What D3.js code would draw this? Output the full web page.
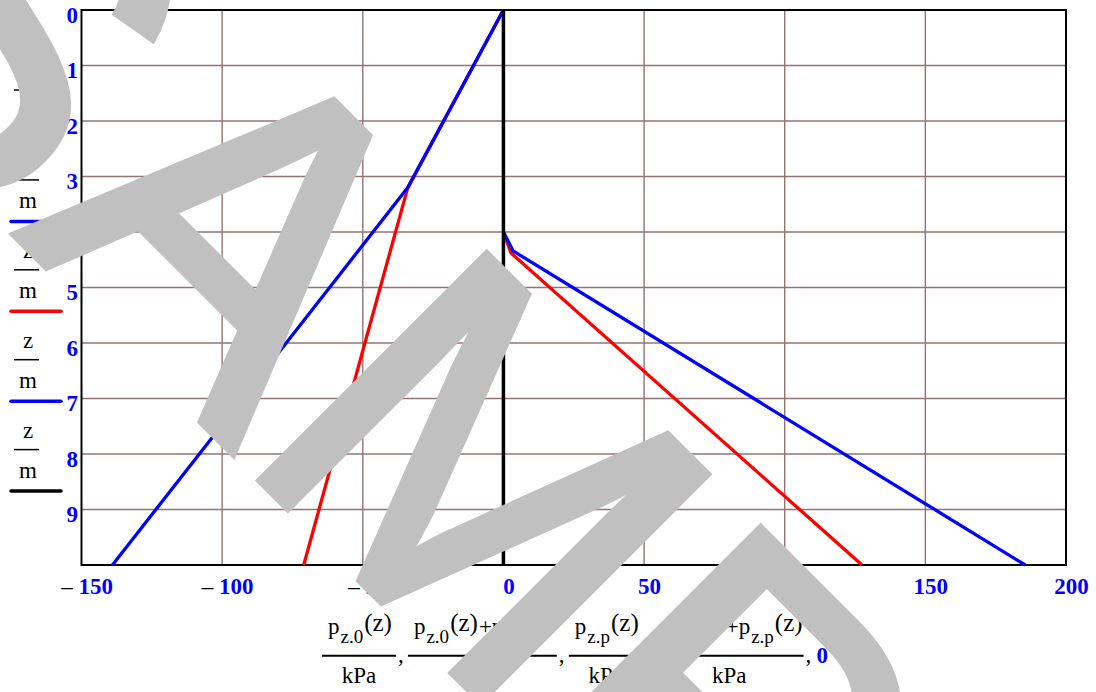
<!DOCTYPE html>
<html>
<head>
<meta charset="utf-8">
<script src="https://cdn.jsdelivr.net/npm/d3@7"></script>
<style>
body { margin:0; background:#fff; }
svg { display:block; }
</style>
</head>
<body>
<div id="chart"></div>
<script>
// depth z (m) and pressures (kPa)
var zLeft = [0, 3.2, 10];
var pz0 = [0, -34, -71];
var pz0pzp = [0, -34, -139];
var zRightRed = [4, 4.38, 10];
var pzp = [0, 2.7, 127.5];
var zRightBlue = [4, 4.34, 10];
var pz0pzpR = [0, 3.4, 185.5];
var zZero = [0, 10];
var pZero = [0, 0];

var xTicks = [-150, -100, -50, 0, 50, 100, 150, 200];
var yTicks = [0, 1, 2, 3, 4, 5, 6, 7, 8, 9];
var legendColors = ["red", "blue", "red", "blue", "black"];

var width = 1096, height = 692;
var pL = 81.5, pR = 1066, pT = 10, pB = 565;

var x = d3.scaleLinear().domain([-150, 200]).range([pL, pR]);
var y = d3.scaleLinear().domain([0, 10]).range([pT, pB]);

var svg = d3.select("#chart").append("svg")
    .attr("width", width)
    .attr("height", height);

var serif = "'Liberation Serif','Times New Roman',serif";
var gridColor = "#957373";

// grid
svg.append("g").selectAll("line")
    .data(xTicks.slice(1, -1))
    .enter().append("line")
    .attr("x1", d => x(d)).attr("x2", d => x(d))
    .attr("y1", pT).attr("y2", pB)
    .style("stroke", gridColor).style("stroke-width", 1.4);

svg.append("g").selectAll("line")
    .data(yTicks.slice(1))
    .enter().append("line")
    .attr("x1", pL).attr("x2", pR)
    .attr("y1", d => y(d)).attr("y2", d => y(d))
    .style("stroke", gridColor).style("stroke-width", 1.4);

// frame
svg.append("rect")
    .attr("x", pL).attr("y", pT)
    .attr("width", pR - pL).attr("height", pB - pT)
    .style("fill", "none").style("stroke", "black").style("stroke-width", 2);

var series = [
    {z: zLeft, p: pz0, color: "red"},
    {z: zLeft, p: pz0pzp, color: "blue"},
    {z: zRightRed, p: pzp, color: "red"},
    {z: zRightBlue, p: pz0pzpR, color: "blue"},
    {z: zZero, p: pZero, color: "black"}
];

var line = d3.line()
    .x(d => x(d[0]))
    .y(d => y(d[1]));

svg.append("g").selectAll("path")
    .data(series)
    .enter().append("path")
    .attr("d", s => line(s.p.map((v, i) => [v, s.z[i]])))
    .style("fill", "none")
    .style("stroke", s => s.color)
    .style("stroke-width", s => s.color == "black" ? 3.5 : 3.3)
    .style("stroke-linejoin", "round");

// y tick labels
svg.append("g").selectAll("text")
    .data(yTicks)
    .enter().append("text")
    .attr("x", 78)
    .attr("y", d => y(d) + 12.5)
    .attr("text-anchor", "end")
    .style("font-family", serif).style("font-size", "23px").style("font-weight", "bold")
    .style("fill", "blue")
    .text(d => d);

// x tick labels, minus sign black like mathcad
var xl = svg.append("g").selectAll("text")
    .data(xTicks)
    .enter().append("text")
    .attr("x", d => x(d) + 5.5)
    .attr("y", 594)
    .attr("text-anchor", "middle")
    .style("font-family", serif).style("font-size", "23px").style("font-weight", "bold");
xl.filter(d => d < 0).append("tspan").style("fill", "black").style("font-weight", "normal").text("\u2013 ");
xl.append("tspan").style("fill", "blue").text(d => Math.abs(d));

// legend on the left: z/m with a line sample
var leg = svg.append("g").selectAll("g")
    .data(legendColors)
    .enter().append("g")
    .attr("transform", (d, i) => "translate(0," + (131.5 + i * 89.9) + ")");
leg.append("text").attr("x", 28).attr("y", -53).attr("text-anchor", "middle")
    .style("font-family", serif).style("font-size", "23px").text("z");
leg.append("line").attr("x1", 14).attr("x2", 39).attr("y1", -41.5).attr("y2", -41.5)
    .style("stroke", "black").style("stroke-width", 1.5);
leg.append("text").attr("x", 28).attr("y", -13).attr("text-anchor", "middle")
    .style("font-family", serif).style("font-size", "23px").text("m");
leg.append("line").attr("x1", 11).attr("x2", 61).attr("y1", 0).attr("y2", 0)
    .style("stroke", d => d).style("stroke-width", 3.5).style("stroke-linecap", "round");

// x axis title: fractions p/kPa separated by commas
var fracs = [
    [["p", "z.0", "(z)"]],
    [["p", "z.0", "(z)"], ["+p", "z.p", "(z)"]],
    [["p", "z.p", "(z)"]],
    [["p", "z.0", "(z)"], ["+p", "z.p", "(z)"]]
];
var ttl = svg.append("g");
var cx = 322, lineY = 655.7;
fracs.forEach(function(f, k) {
    var num = ttl.append("text").attr("y", 634)
        .style("font-family", serif).style("font-size", "23px");
    f.forEach(function(part, j) {
        num.append("tspan").attr("y", 634).attr("dx", j ? 1 : 0).text(part[0]);
        num.append("tspan").attr("y", 643).attr("dx", 1).style("font-size", "19px").text(part[1]);
        num.append("tspan").attr("y", 631).attr("dx", 1).style("font-size", "25px").text(part[2]);
    });
    var nw = num.node().getComputedTextLength();
    var w = nw + 12;
    num.attr("x", cx + (w - nw) / 2);
    num.select("tspan").attr("x", cx + (w - nw) / 2);
    ttl.append("line").attr("x1", cx).attr("x2", cx + w).attr("y1", lineY).attr("y2", lineY)
        .style("stroke", "black").style("stroke-width", 2);
    ttl.append("text").attr("x", cx + w / 2).attr("y", 683).attr("text-anchor", "middle")
        .style("font-family", serif).style("font-size", "23px").text("kPa");
    ttl.append("text").attr("x", cx + w + 2).attr("y", 662)
        .style("font-family", serif).style("font-size", "23px").text(",");
    cx = cx + w + 12;
});
ttl.append("text").attr("x", cx + 1).attr("y", 663)
    .style("font-family", serif).style("font-size", "23px").style("font-weight", "bold")
    .style("fill", "blue").text("0");

// watermark over everything
var wm = svg.append("text")
    .attr("transform", "translate(-205,15) rotate(45)")
    .style("font-family", "'Liberation Sans',Arial,sans-serif")
    .style("font-size", "465px")
    .style("fill", "#c0c0c0")
    .style("stroke", "#c0c0c0")
    .style("stroke-width", 8)
    .style("stroke-linejoin", "miter");
wm.append("tspan").attr("dx", -12).attr("dy", 15).text("S");
wm.append("tspan").attr("dx", 12).attr("dy", -15).text("AMPLE");
</script>
</body>
</html>
